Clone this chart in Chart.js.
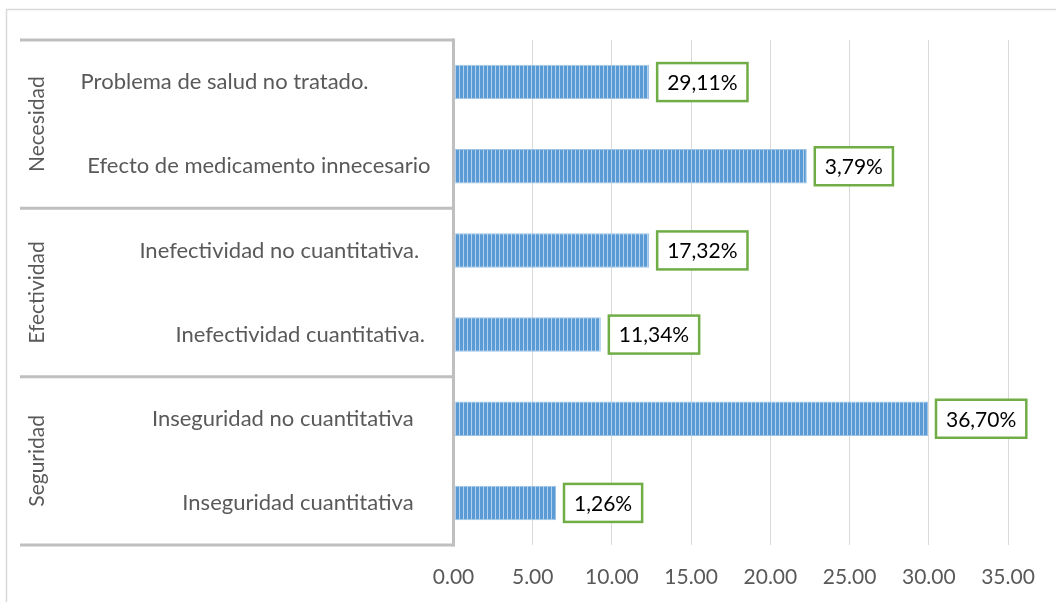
<!DOCTYPE html>
<html>
<head>
<meta charset="utf-8">
<script src="https://cdn.jsdelivr.net/npm/chart.js@4"></script>
<style>
  html, body { margin: 0; padding: 0; background: #ffffff; }
  #wrap { position: relative; width: 1056px; height: 602px; }
</style>
</head>
<body>
<div id="wrap"><canvas id="c" width="1056" height="602"></canvas></div>
<script>
// ---- Data ----
const categories = [
  'Problema de salud no tratado.           ',
  'Efecto de medicamento innecesario',
  'Inefectividad no cuantitativa.  ',
  'Inefectividad cuantitativa. ',
  'Inseguridad no cuantitativa   ',
  'Inseguridad cuantitativa   '
];
const groups = ['Necesidad', 'Efectividad', 'Seguridad'];
const groupSizes = [2, 2, 2];
const barValues = [12.35, 22.3, 12.35, 9.3, 29.95, 6.47];
const barLabels = ['29,11%', '3,79%', '17,32%', '11,34%', '36,70%', '1,26%'];
const xTicksMin = 0, xTicksMax = 35, xTickStep = 5;

const FONT = 'Lato';

// stripe pattern for bars
function makePattern(ctx) {
  const p = document.createElement('canvas');
  p.width = 4; p.height = 4;
  const pc = p.getContext('2d');
  pc.fillStyle = '#5b9bd5'; pc.fillRect(0, 0, 4, 4);
  pc.fillStyle = '#b4d2ee'; pc.fillRect(3, 0, 1, 4);
  return ctx.createPattern(p, 'repeat');
}

const canvas = document.getElementById('c');
const ctx = canvas.getContext('2d');

const framePlugin = {
  id: 'frame',
  beforeDraw(chart) {
    const c = chart.ctx;
    c.save();
    c.strokeStyle = '#d9d9d9';
    c.lineWidth = 1.5;
    c.strokeRect(6.5, 9.5, 1200, 800);
    c.restore();
  },
  afterDraw(chart) {
    const c = chart.ctx, a = chart.chartArea, y = chart.scales.y;
    c.save();
    // group separators
    const bounds = [a.top];
    let idx = 0;
    groupSizes.forEach((n) => {
      idx += n;
      if (idx < categories.length) {
        bounds.push((y.getPixelForValue(idx - 1) + y.getPixelForValue(idx)) / 2);
      }
    });
    bounds.push(a.bottom);
    c.strokeStyle = '#bfbfbf';
    c.lineWidth = 3;
    bounds.forEach(b => {
      c.beginPath(); c.moveTo(20, b); c.lineTo(a.left, b); c.stroke();
    });
    // axis line
    c.beginPath(); c.moveTo(a.left, a.top - 1.5); c.lineTo(a.left, a.bottom + 1.5); c.stroke();
    // group labels
    c.fillStyle = '#595959';
    c.font = '21px ' + FONT;
    c.textAlign = 'center';
    c.textBaseline = 'middle';
    for (let g = 0; g < groups.length; g++) {
      const cy = (bounds[g] + bounds[g + 1]) / 2;
      c.save();
      c.translate(37, cy);
      c.rotate(-Math.PI / 2);
      c.fillText(groups[g], 0, 0);
      c.restore();
    }
    c.restore();
  }
};

const labelPlugin = {
  id: 'boxLabels',
  afterDatasetsDraw(chart) {
    const c = chart.ctx;
    const meta = chart.getDatasetMeta(0);
    c.save();
    c.font = '21px ' + FONT;
    c.textBaseline = 'middle';
    c.textAlign = 'left';
    meta.data.forEach((bar, i) => {
      const t = barLabels[i];
      const w = c.measureText(t).width + 20;
      const h = 38;
      const left = bar.x + 8;
      const top = bar.y - h / 2;
      c.fillStyle = '#ffffff';
      c.fillRect(left, top, w, h);
      c.strokeStyle = '#70ad47';
      c.lineWidth = 2.5;
      c.strokeRect(left, top, w, h);
      c.fillStyle = '#000000';
      c.fillText(t, left + 10, top + h / 2 + 1);
    });
    c.restore();
  }
};

new Chart(ctx, {
  type: 'bar',
  data: {
    labels: categories,
    datasets: [{
      data: barValues,
      backgroundColor: makePattern(ctx),
      borderColor: '#9dc3e6',
      borderWidth: 1,
      categoryPercentage: 1,
      barPercentage: 0.41
    }]
  },
  options: {
    indexAxis: 'y',
    responsive: false,
    animation: false,
    devicePixelRatio: 1,
    layout: { padding: { top: 40, right: 48, bottom: 0, left: 0 } },
    plugins: { legend: { display: false }, tooltip: { enabled: false }, title: { display: false } },
    scales: {
      x: {
        min: xTicksMin, max: xTicksMax,
        ticks: {
          stepSize: xTickStep,
          callback: v => Number(v).toFixed(2),
          color: '#595959',
          font: { family: FONT, size: 21 },
          padding: 20,
          maxRotation: 0
        },
        grid: { color: '#d9d9d9', lineWidth: 1, drawTicks: false },
        border: { display: false },
        afterFit: s => { s.height = 57; }
      },
      y: {
        ticks: {
          color: '#595959',
          font: { family: FONT, size: 22 },
          padding: 23,
          autoSkip: false
        },
        grid: { display: false, drawTicks: false },
        border: { display: false },
        afterFit: s => { s.width = 453.5; }
      }
    }
  },
  plugins: [framePlugin, labelPlugin]
});
</script>
</body>
</html>
